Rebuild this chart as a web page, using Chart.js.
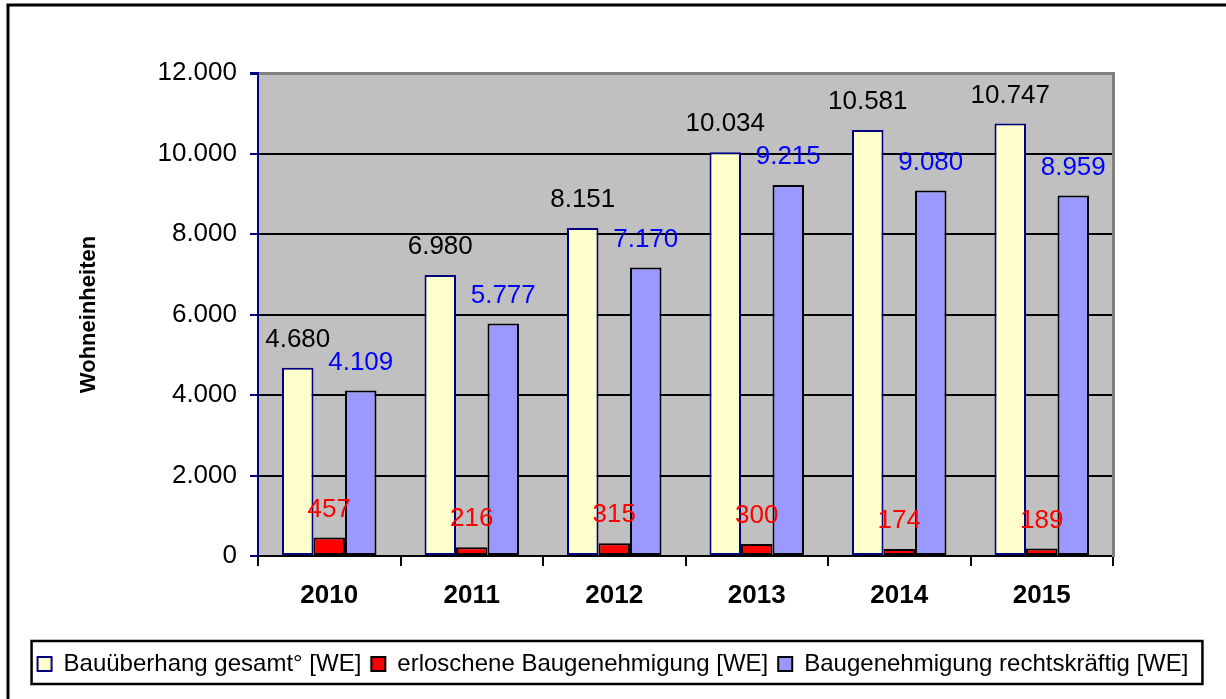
<!DOCTYPE html>
<html lang="de">
<head>
<meta charset="utf-8">
<script src="https://cdn.jsdelivr.net/npm/chart.js@4.4.1/dist/chart.umd.min.js"></script>
<style>
  html, body { margin: 0; padding: 0; background: #fff; }
  #wrap { width: 1226px; height: 699px; }
</style>
</head>
<body>
<div id="wrap"><canvas id="chart"></canvas></div>
<script>
// Daten aus dem Diagramm
const jahre = ['2010', '2011', '2012', '2013', '2014', '2015'];
const bauueberhang = [4680, 6980, 8151, 10034, 10581, 10747];
const erloschen = [457, 216, 315, 300, 174, 189];
const rechtskraeftig = [4109, 5777, 7170, 9215, 9080, 8959];
const yTicks = [0, 2000, 4000, 6000, 8000, 10000, 12000];
const serien = ['Bauüberhang gesamt° [WE]', 'erloschene Baugenehmigung [WE]', 'Baugenehmigung rechtskräftig [WE]'];

const schrift = '"Liberation Sans", Arial, sans-serif';
const labelFarben = ['#000000', '#FF0000', '#0000FF'];

// Zahlen mit Tausenderpunkt
function fmt(v) {
    return String(v).replace(/\B(?=(\d{3})+(?!\d))/g, '.');
}

// grauer Hintergrund der Zeichenfläche
const hintergrund = {
    id: 'hintergrund',
    beforeDraw(chart) {
        const a = chart.chartArea;
        const ctx = chart.ctx;
        ctx.save();
        ctx.fillStyle = '#C0C0C0';
        ctx.fillRect(a.left, a.top, a.right - a.left, a.bottom - a.top);
        ctx.restore();
    }
};

// Werte über den Balken
const wertLabels = {
    id: 'wertLabels',
    afterDatasetsDraw(chart) {
        const ctx = chart.ctx;
        ctx.save();
        ctx.font = '26px ' + schrift;
        ctx.textAlign = 'center';
        ctx.textBaseline = 'middle';
        chart.data.datasets.forEach((ds, i) => {
            ctx.fillStyle = labelFarben[i];
            chart.getDatasetMeta(i).data.forEach((bar, j) => {
                ctx.fillText(fmt(ds.data[j]), bar.x, bar.y - 28);
            });
        });
        ctx.restore();
    }
};

// Rahmen um Diagramm und Legende
const rahmen = {
    id: 'rahmen',
    afterDraw(chart) {
        const ctx = chart.ctx;
        ctx.save();
        ctx.strokeStyle = '#000';
        ctx.lineWidth = 3;
        ctx.beginPath();
        ctx.moveTo(8, 699);
        ctx.lineTo(8, 5);
        ctx.lineTo(1226, 5);
        ctx.stroke();

        const lg = chart.legend;
        const pad = lg.options.labels.padding;
        const lw = lg.lineWidths[0];
        const x0 = (lg.left + pad + lg.right - lw) / 2;
        const mitte = lg.top + pad + 12;
        ctx.lineWidth = 2.5;
        ctx.strokeRect(x0 - 6, mitte - 23, lw - pad + 20, 43);
        ctx.restore();
    }
};

new Chart(document.getElementById('chart'), {
    type: 'bar',
    data: {
        labels: jahre,
        datasets: [{
            label: serien[0],
            data: bauueberhang,
            backgroundColor: '#FFFFCC',
            borderColor: '#000080',
            borderWidth: 2,
            borderSkipped: false
        }, {
            label: serien[1],
            data: erloschen,
            backgroundColor: '#FF0000',
            borderColor: '#000000',
            borderWidth: 2,
            borderSkipped: false
        }, {
            label: serien[2],
            data: rechtskraeftig,
            backgroundColor: '#9999FF',
            borderColor: '#000000',
            borderWidth: 2,
            borderSkipped: false
        }]
    },
    options: {
        responsive: true,
        maintainAspectRatio: false,
        animation: false,
        devicePixelRatio: 1,
        categoryPercentage: 0.663,
        barPercentage: 1,
        layout: { padding: { left: 0, right: 0, top: 73, bottom: 13 } },
        plugins: {
            tooltip: { enabled: false },
            legend: {
                position: 'bottom',
                labels: {
                    color: '#000',
                    font: { size: 24, family: schrift },
                    boxWidth: 14,
                    boxHeight: 14,
                    padding: 10
                }
            }
        },
        scales: {
            x: {
                grid: {
                    display: true,
                    drawOnChartArea: false,
                    tickLength: 10,
                    color: '#000',
                    lineWidth: 2,
                    offset: true
                },
                border: { color: '#000', width: 2 },
                ticks: {
                    color: '#000',
                    font: { size: 26, weight: 'bold', family: schrift },
                    padding: 14
                },
                afterFit: s => { s.height = 86; }
            },
            y: {
                min: 0,
                max: 12000,
                afterBuildTicks: s => { s.ticks = yTicks.map(v => ({ value: v })); },
                grid: {
                    color: c => (c.tick && c.tick.value === 12000) ? '#808080' : '#000000',
                    lineWidth: c => (c.tick && c.tick.value === 12000) ? 3 : 2,
                    tickColor: '#000080',
                    tickLength: 8
                },
                border: { color: '#000080', width: 2 },
                ticks: {
                    color: '#000',
                    font: { size: 26, family: schrift },
                    padding: 13,
                    callback: v => fmt(v)
                },
                title: {
                    display: true,
                    text: 'Wohneinheiten',
                    color: '#000',
                    font: { size: 22, weight: 'bold', family: schrift },
                    padding: { top: 76, bottom: 0 }
                },
                afterFit: s => { s.width = 258; }
            },
            yR: {
                type: 'linear',
                position: 'right',
                min: 0,
                max: 1,
                grid: { display: false },
                ticks: { display: false },
                border: { display: true, color: '#808080', width: 3 },
                afterFit: s => { s.width = 113; }
            }
        }
    },
    plugins: [hintergrund, wertLabels, rahmen]
});
</script>
</body>
</html>
